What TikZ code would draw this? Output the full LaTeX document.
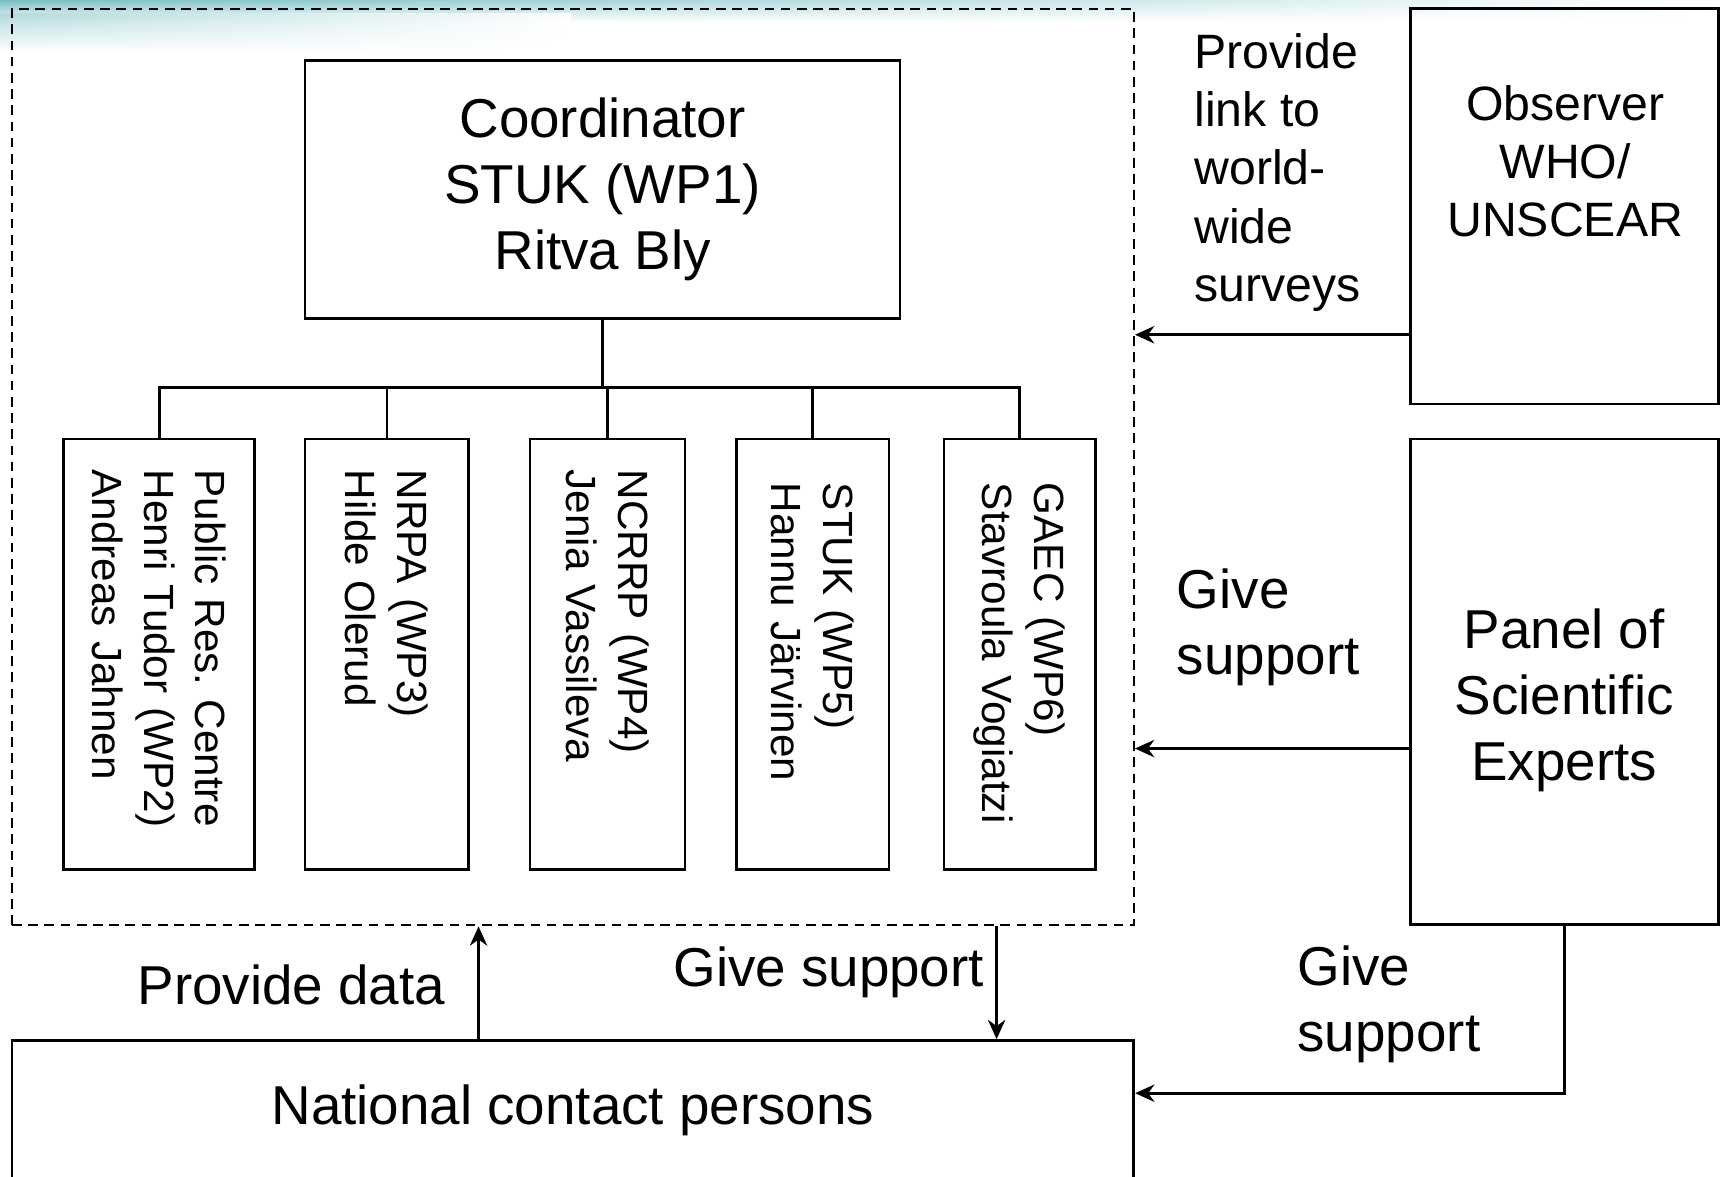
\documentclass[tikz,border=0pt]{standalone}
\usepackage{fontspec}
\setmainfont{Liberation Sans}
\usetikzlibrary{arrows.meta}
\usetikzlibrary{fadings}
\definecolor{bandteal}{RGB}{120,190,196}
\newcommand{\fontbig}{\fontsize{14.2pt}{17.1pt}\selectfont}
\newcommand{\fontmid}{\fontsize{12.5pt}{15.1pt}\selectfont}
\newcommand{\fontsml}{\fontsize{10.95pt}{13.4pt}\selectfont}
\tikzset{
	box/.style = {
		draw=black,
		line width=0.7pt,
		inner sep=0pt,
		align=center,
		font=\fontbig
	},
	node_team/.style = {
		box,
		line width=0.6pt,
		dash pattern=on 2.5pt off 1.7pt
	},
	node_wp/.style = {
		box,
		rotate=-90,
		align=left,
		font=\fontsml,
		minimum width=3.92cm,
		text width=#1
	},
	node_side/.style = {
		box,
		minimum width=2.81cm
	},
	txt/.style = {
		inner sep=0pt,
		font=\fontbig
	},
	txt_left/.style = {
		txt,
		align=left,
		anchor=west
	},
}

\begin{document}
\begin{tikzpicture}[>={Stealth[length=5pt,width=4.5pt]}, line width=0.7pt]
\useasboundingbox (0,0) rectangle (15.68,-10.72);
\shade [left color=bandteal, right color=white, path fading=south] (0,0) rectangle (15.68,-0.2);
\shade [left color=bandteal!55, right color=white, path fading=south] (0,-0.12) rectangle (5.2,-0.48);

\node [node_team, minimum width=10.22cm, minimum height=8.35cm] (team) at (5.22,-4.255) {};
\node [box, minimum width=5.42cm, minimum height=2.35cm] (coord) at (5.49,-1.725) {Coordinator\\STUK (WP1)\\Ritva Bly};

\node [node_wp=3.36cm, minimum height=1.74cm] (wp2) at (1.45,-5.96) {Public Res.\ Centre\\Henri Tudor (WP2)\\Andreas Jahnen};
\node [node_wp=3.36cm, minimum height=1.49cm] (wp3) at (3.525,-5.96) {NRPA (WP3)\\Hilde Olerud};
\node [node_wp=3.36cm, minimum height=1.41cm] (wp4) at (5.535,-5.96) {NCRRP (WP4)\\Jenia Vassileva};
\node [node_wp=3.12cm, minimum height=1.39cm] (wp5) at (7.405,-5.96) {STUK (WP5)\\Hannu Järvinen};
\node [node_wp=3.12cm, minimum height=1.38cm] (wp6) at (9.29,-5.96) {GAEC (WP6)\\Stavroula Vogiatzi};

\foreach \wp in {wp2,wp3,wp4,wp5,wp6}
	\draw (coord.south) -- ++(0,-0.62) -| (\wp.west);

\node [node_side, minimum height=3.60cm] (obs) at (14.255,-1.88) {};
\node [txt, font=\fontmid, align=center] (obs_txt) at (14.26,-1.47) {Observer\\WHO/\\UNSCEAR};
\node [node_side, minimum height=4.42cm] (panel) at (14.255,-6.21) {};
\node [txt, align=center] (panel_txt) at (14.25,-6.38) {Panel of\\Scientific\\Experts};

\node [box, minimum width=10.22cm, minimum height=1.28cm] (ncp) at (5.22,-10.12) {National contact persons};

\draw [->] ([yshift=-1.17cm]obs.west) -- ([yshift=-1.17cm]obs.west -| team.east);
\draw [->] ([yshift=-0.61cm]panel.west) -- ([yshift=-0.61cm]panel.west -| team.east);
\draw [->] ([xshift=-0.86cm]ncp.north) -- ([xshift=-0.86cm]team.south);
\draw [->] ([xshift=3.86cm]team.south) -- ([xshift=3.86cm]ncp.north);
\draw [->] (panel.south) |- ([yshift=0.16cm]ncp.east);

\node [txt_left, font=\fontmid] (link_lbl) at (10.87,-1.57) {Provide\\link to\\world-\\wide\\surveys};
\node [txt_left] (panel_lbl) at (10.71,-5.72) {Give\\support};
\node [txt] (data_lbl) at (2.655,-8.97) {Provide data};
\node [txt] (down_lbl) at (7.55,-8.86) {Give support};
\node [txt_left] (ncp_lbl) at (11.81,-9.15) {Give\\support};
\end{tikzpicture}
\end{document}
